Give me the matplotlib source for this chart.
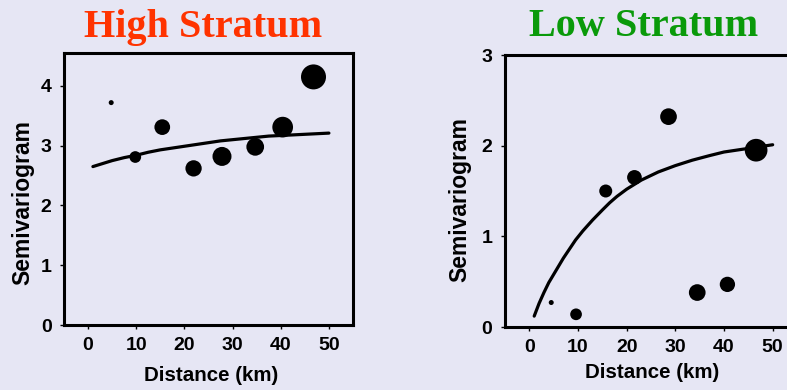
import matplotlib
matplotlib.use("Agg")
import matplotlib.pyplot as plt

# High stratum: empirical semivariogram (distance km, value, dot diameter px)
hi_dist = [4.8, 9.8, 15.4, 21.9, 27.8, 34.7, 40.4, 46.8]
hi_gamma = [3.72, 2.81, 3.31, 2.62, 2.82, 2.98, 3.31, 4.15]
hi_pairs = [5, 11.7, 15.7, 16.3, 19, 17.7, 20.7, 25]
# fitted model
hi_fit_x = [1, 3, 5, 7.5, 10, 12.5, 15, 17.5, 20, 22.5, 25, 27.5, 30, 32.5,
            35, 37.5, 40, 42.5, 45, 47.5, 50]
hi_fit_y = [2.65, 2.70, 2.75, 2.80, 2.84, 2.89, 2.93, 2.96, 2.99, 3.02, 3.05,
            3.08, 3.10, 3.12, 3.14, 3.16, 3.17, 3.18, 3.19, 3.20, 3.21]

# Low stratum
lo_dist = [4.5, 9.6, 15.7, 21.6, 28.6, 34.5, 40.7, 46.6]
lo_gamma = [0.27, 0.14, 1.50, 1.65, 2.32, 0.38, 0.47, 1.95]
lo_pairs = [5, 11.7, 13, 14.7, 16.7, 16.7, 15.3, 22.7]
lo_fit_x = [1, 2, 3, 4, 5, 6, 7, 8, 9.5, 11, 13, 15, 16.5, 18, 20, 23, 26.5,
            30, 33.5, 37, 40, 45, 50]
lo_fit_y = [0.12, 0.26, 0.38, 0.49, 0.58, 0.67, 0.76, 0.84, 0.96, 1.06, 1.18,
            1.29, 1.37, 1.44, 1.52, 1.62, 1.71, 1.78, 1.84, 1.89, 1.93, 1.97, 2.01]

x_ticks = [0, 10, 20, 30, 40, 50]


def dot_size(diams):
    # diameter in px (100 dpi) -> scatter area in pt^2
    return [(d * 0.72) ** 2 for d in diams]


def panel(ax, dist, gamma, pairs, fx, fy, ylim, yticks, xlab_pos, ylab_pos):
    ax.set_facecolor("none")
    ax.plot(fx, fy, color="black", lw=2.3, solid_capstyle="round",
            solid_joinstyle="round", zorder=2)
    ax.scatter(dist, gamma, s=dot_size(pairs), color="black", linewidths=0, zorder=3)
    ax.set_xlim(-5, 55)
    ax.set_ylim(*ylim)
    ax.set_xticks(x_ticks)
    ax.set_yticks(yticks)
    for sp in ax.spines.values():
        sp.set_linewidth(2.2)
    ax.tick_params(direction="out", length=3, width=1, pad=6, labelsize=14)
    for lab in ax.get_xticklabels() + ax.get_yticklabels():
        lab.set_fontweight("bold")
    ax.set_xlabel("Distance (km)", fontsize=14.8, fontweight="bold", va="center")
    ax.set_ylabel("Semivariogram", fontsize=16.5, fontweight="bold", va="center")
    ax.xaxis.set_label_coords(*xlab_pos)
    ax.yaxis.set_label_coords(*ylab_pos)


def main():
    plt.rcParams["font.family"] = ["Liberation Sans", "DejaVu Sans"]

    fig = plt.figure(figsize=(7.87, 3.90), dpi=100)
    fig.patch.set_facecolor("#E6E6F4")

    ax1 = fig.add_axes([64 / 787, 65 / 390, 289 / 787, 272 / 390])
    panel(ax1, hi_dist, hi_gamma, hi_pairs, hi_fit_x, hi_fit_y,
          (0, 4.55), [0, 1, 2, 3, 4], (0.509, -0.184), (-0.144, 0.449))

    ax2 = fig.add_axes([505 / 787, 63 / 390, 292 / 787, 272 / 390])
    panel(ax2, lo_dist, lo_gamma, lo_pairs, lo_fit_x, lo_fit_y,
          (0, 3), [0, 1, 2, 3], (0.503, -0.169), (-0.154, 0.467))

    fig.text(203.5 / 787, 1 - 36.5 / 390, "High Stratum", color="#FF3300",
             fontsize=29, fontweight="bold", family="Liberation Serif",
             ha="center", va="baseline")
    fig.text(644 / 787, 1 - 36 / 390, "Low Stratum", color="#0A9A0A",
             fontsize=29, fontweight="bold", family="Liberation Serif",
             ha="center", va="baseline")

    fig.savefig("out.png", dpi=100, facecolor=fig.get_facecolor())


if __name__ == "__main__":
    main()
